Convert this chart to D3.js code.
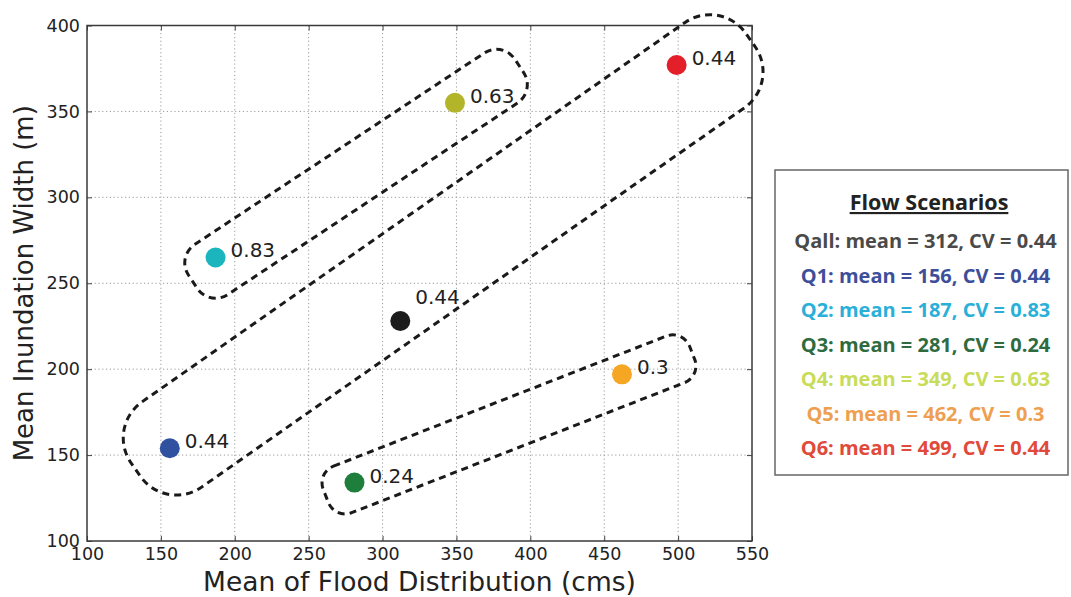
<!DOCTYPE html>
<html>
<head>
<meta charset="utf-8">
<script src="https://cdn.jsdelivr.net/npm/d3@7/dist/d3.min.js"></script>
<style>
  html, body { margin: 0; padding: 0; background: #fff; }
  svg { display: block; }
</style>
</head>
<body>
<svg id="chart" width="1071" height="597"></svg>
<script>
// ---------- data ----------
const scenarios = ["Qall", "Q1", "Q2", "Q3", "Q4", "Q5", "Q6"];
const meanFlow = [312, 156, 187, 281, 349, 462, 499];          // x: mean of flood distribution (cms)
const inundationWidth = [228, 154, 265, 134, 355, 197, 377];  // y: mean inundation width (m)
const cvLabels = ["0.44", "0.44", "0.83", "0.24", "0.63", "0.3", "0.44"];
const legendLines = [
  "Qall: mean = 312, CV = 0.44",
  "Q1: mean = 156, CV = 0.44",
  "Q2: mean = 187, CV = 0.83",
  "Q3: mean = 281, CV = 0.24",
  "Q4: mean = 349, CV = 0.63",
  "Q5: mean = 462, CV = 0.3",
  "Q6: mean = 499, CV = 0.44"
];
const xTicks = [100, 150, 200, 250, 300, 350, 400, 450, 500, 550];
const yTicks = [100, 150, 200, 250, 300, 350, 400];
// dashed grouping outlines: long-axis end points in data units
const groupStart = [[133.0, 141.5], [171.6, 250.9], [261.6, 126.2]];
const groupEnd   = [[549.0, 391.5], [392.5, 376.5], [509.5, 209.5]];

// ---------- styles ----------
const pointColors = ["#1c1c1c", "#3050a0", "#1ab5bd", "#1e7f3c", "#b2b52a", "#f5a623", "#e3202a"];
const legendColors = ["#4a4a4a", "#3d4f9a", "#2ab0d8", "#2f6b40", "#c8dc5a", "#eea050", "#e04a3a"];
const groupHalfWidth = [52, 30, 25];
const groupRadius = [44, 22, 18];

const svg = d3.select("#chart");
const L = 87, R = 752, T = 25.5, B = 541;
const x = d3.scaleLinear().domain([100, 550]).range([L, R]);
const y = d3.scaleLinear().domain([100, 400]).range([B, T]);
const tickFont = "'DejaVu Sans', sans-serif";

// grid
const grid = svg.append("g");
grid.selectAll("line.gx").data(xTicks.slice(1, -1)).join("line")
  .attr("x1", d => x(d)).attr("x2", d => x(d)).attr("y1", T).attr("y2", B)
  .attr("stroke", "#9a9a9a").attr("stroke-width", 1).attr("stroke-dasharray", "1.2,2.6");
grid.selectAll("line.gy").data(yTicks.slice(1, -1)).join("line")
  .attr("y1", d => y(d)).attr("y2", d => y(d)).attr("x1", L).attr("x2", R)
  .attr("stroke", "#9a9a9a").attr("stroke-width", 1).attr("stroke-dasharray", "1.2,2.6");

// axes (ticks inward on all sides)
const axB = svg.append("g").attr("transform", `translate(0,${B})`)
  .call(d3.axisBottom(x).tickValues(xTicks).tickSizeInner(-5).tickSizeOuter(0).tickPadding(7));
const axT = svg.append("g").attr("transform", `translate(0,${T})`)
  .call(d3.axisTop(x).tickValues(xTicks).tickSizeInner(-5).tickSizeOuter(0).tickFormat(""));
const axLft = svg.append("g").attr("transform", `translate(${L},0)`)
  .call(d3.axisLeft(y).tickValues(yTicks).tickSizeInner(-5).tickSizeOuter(0).tickPadding(7));
const axRgt = svg.append("g").attr("transform", `translate(${R},0)`)
  .call(d3.axisRight(y).tickValues(yTicks).tickSizeInner(-5).tickSizeOuter(0).tickFormat(""));
[axB, axT, axLft, axRgt].forEach(a => {
  a.select(".domain").remove();
  a.selectAll(".tick line").attr("stroke", "#444").attr("stroke-width", 1);
  a.selectAll(".tick text").attr("font-family", tickFont).attr("font-size", 17.5).attr("fill", "#222");
});

// frame
svg.append("rect").attr("x", L).attr("y", T).attr("width", R - L).attr("height", B - T)
  .attr("fill", "none").attr("stroke", "#3a3a3a").attr("stroke-width", 1.5);

// axis titles
svg.append("text").attr("x", (L + R) / 2).attr("y", 591).attr("text-anchor", "middle")
  .attr("font-family", tickFont).attr("font-size", 26.5).attr("fill", "#222")
  .text("Mean of Flood Distribution (cms)");
svg.append("text").attr("transform", `translate(33,${(T + B) / 2}) rotate(-90)`)
  .attr("text-anchor", "middle")
  .attr("font-family", tickFont).attr("font-size", 26).attr("fill", "#222")
  .text("Mean Inundation Width (m)");

// dashed grouping outlines
groupStart.forEach((s, i) => {
  const p1 = [x(s[0]), y(s[1])], p2 = [x(groupEnd[i][0]), y(groupEnd[i][1])];
  const len = Math.hypot(p2[0] - p1[0], p2[1] - p1[1]);
  const ang = Math.atan2(p2[1] - p1[1], p2[0] - p1[0]) * 180 / Math.PI;
  const cx = (p1[0] + p2[0]) / 2, cy = (p1[1] + p2[1]) / 2;
  const hw = groupHalfWidth[i];
  svg.append("rect")
    .attr("x", -len / 2).attr("y", -hw).attr("width", len).attr("height", 2 * hw)
    .attr("rx", groupRadius[i]).attr("ry", groupRadius[i])
    .attr("transform", `translate(${cx},${cy}) rotate(${ang})`)
    .attr("fill", "none").attr("stroke", "#1a1a1a").attr("stroke-width", 3)
    .attr("stroke-dasharray", "7,5");
});

// points
const pts = scenarios.map((s, i) => ({ s, xv: meanFlow[i], yv: inundationWidth[i], cv: cvLabels[i], c: pointColors[i] }));
svg.append("g").selectAll("circle").data(pts).join("circle")
  .attr("cx", d => x(d.xv)).attr("cy", d => y(d.yv)).attr("r", 10)
  .attr("fill", d => d.c);
svg.append("g").selectAll("text").data(pts).join("text")
  .attr("x", d => x(d.xv) + 15)
  .attr("y", d => y(d.yv) + (d.s === "Qall" ? -17 : 0))
  .attr("font-family", tickFont).attr("font-size", 20).attr("fill", "#222")
  .text(d => d.cv);

// legend
const lg = svg.append("g");
lg.append("rect").attr("x", 775).attr("y", 170).attr("width", 293).attr("height", 305)
  .attr("fill", "#fff").attr("stroke", "#666").attr("stroke-width", 1.5);
lg.append("text").attr("x", 929).attr("y", 210).attr("text-anchor", "middle")
  .attr("font-family", "'Open Sans', sans-serif").attr("font-weight", 700).attr("font-size", 21.5)
  .attr("fill", "#222").attr("text-decoration", "underline")
  .text("Flow Scenarios");
lg.selectAll("text.item").data(legendLines).join("text").attr("class", "item")
  .attr("x", 925.5).attr("y", (d, i) => 248 + i * 34.5).attr("text-anchor", "middle")
  .attr("font-family", "'Open Sans', sans-serif").attr("font-weight", 700).attr("font-size", 20)
  .attr("fill", (d, i) => legendColors[i])
  .text(d => d);
</script>
</body>
</html>
